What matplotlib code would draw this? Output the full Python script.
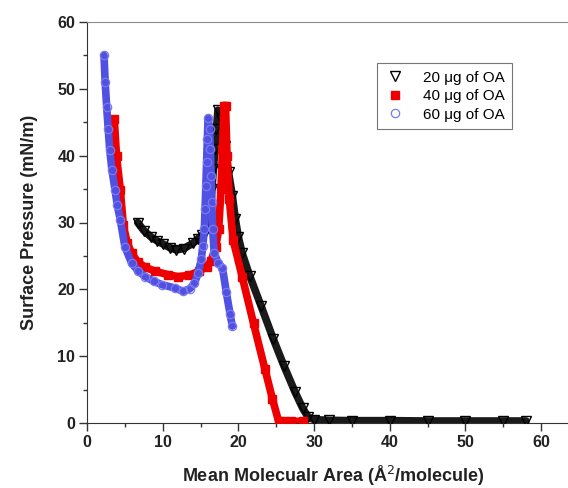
import matplotlib
matplotlib.use('Agg')
import matplotlib.pyplot as plt
from matplotlib.ticker import MultipleLocator

plt.rcParams['font.family'] = ['Liberation Sans', 'DejaVu Sans']

# 20 ug of OA (open down triangles)
area_20 = [6.7, 7.5, 8.5, 9.2, 10.0, 11.0, 11.8, 12.8, 14.0, 14.7, 15.2, 15.7, 16.1, 16.3,
           16.5, 16.7, 16.9, 17.1, 17.3, 17.7, 18.2, 18.7, 19.2, 19.6, 20.0, 20.5, 21.5,
           23.0, 24.6, 26.0, 27.5, 28.5, 29.2, 30.0, 32.0, 35.0, 40.0, 45.0, 50.0, 55.0, 58.0]
press_20 = [30.0, 28.8, 27.8, 27.3, 26.8, 26.2, 25.9, 26.1, 26.9, 27.6, 28.1, 28.8, 29.8, 32.0,
            35.0, 38.0, 41.0, 44.0, 46.8, 45.5, 41.5, 37.5, 34.0, 30.5, 27.8, 25.4, 22.0,
            17.5, 12.6, 8.6, 4.6, 2.2, 0.9, 0.5, 0.4, 0.35, 0.35, 0.3, 0.3, 0.3, 0.3]

# 40 ug of OA (filled squares)
area_40 = [3.6, 3.9, 4.4, 4.8, 5.3, 5.9, 6.7, 7.7, 9.0, 10.7, 12.0, 13.5, 14.8, 15.8, 16.4,
           17.0, 17.4, 17.7, 17.9, 18.1, 18.3, 18.5, 18.8, 19.3, 20.5, 22.0, 23.5, 24.5,
           25.3, 26.0, 27.0, 28.5]
press_40 = [45.5, 39.9, 34.9, 29.6, 27.0, 25.4, 24.1, 23.3, 22.7, 22.2, 21.9, 22.1, 22.7, 23.4, 24.3,
            26.3, 29.0, 35.0, 41.0, 47.5, 47.5, 40.0, 33.5, 27.4, 21.9, 14.9, 8.1, 3.6,
            0.3, 0.25, 0.25, 0.25]

# 60 ug of OA (open circles)
area_60 = [2.25, 2.4, 2.6, 2.8, 3.0, 3.3, 3.7, 4.0, 4.4, 5.0, 5.9, 6.8, 7.7, 8.8, 9.9, 11.6,
           12.7, 13.6, 14.2, 14.7, 15.1, 15.3, 15.5, 15.6, 15.7, 15.8, 15.9, 16.0, 16.2, 16.3,
           16.4, 16.5, 16.6, 16.8, 17.3, 17.9, 18.4, 18.9, 19.2]
press_60 = [55.0, 51.0, 47.3, 44.0, 40.9, 37.8, 34.9, 32.6, 30.4, 26.4, 23.9, 22.7, 21.9, 21.2, 20.7, 20.2,
            19.7, 20.1, 20.9, 22.5, 24.5, 26.5, 29.0, 32.0, 35.5, 39.0, 42.5, 45.6, 44.0, 41.0,
            37.0, 33.0, 29.0, 25.5, 24.0, 23.2, 19.6, 16.3, 14.5]

labels = ['20 \u03bcg of OA', '40 \u03bcg of OA', '60 \u03bcg of OA']

fig = plt.figure(figsize=(5.68, 4.88), dpi=100)
ax = fig.add_axes([87 / 568, 65 / 488, 492 / 568, 401 / 488])

# dense marker bands drawn as thick lines under the markers
ax.plot(area_20, press_20, '-', color='#1a1a1a', lw=5.5, solid_capstyle='round', zorder=2)
ax.plot(area_20, press_20, linestyle='none', marker='v', markersize=6.5, markerfacecolor='none',
        markeredgecolor='black', markeredgewidth=1.0, label=labels[0], zorder=3)

ax.plot(area_40, press_40, '-', color='#ee0000', lw=5.5, solid_capstyle='butt', zorder=4)
ax.plot(area_40, press_40, linestyle='none', marker='s', markersize=5.5, color='#ee0000',
        label=labels[1], zorder=5)

ax.plot(area_60, press_60, '-', color='#5050e2', lw=5.5, solid_capstyle='round', zorder=6)
ax.plot(area_60, press_60, linestyle='none', marker='o', markersize=6, markerfacecolor='none',
        markeredgecolor='#7a7aee', markeredgewidth=0.9, label=labels[2], zorder=7)

ax.set_xlim(0, 65)
ax.set_ylim(0, 60)
ax.xaxis.set_major_locator(MultipleLocator(10))
ax.xaxis.set_minor_locator(MultipleLocator(5))
ax.yaxis.set_major_locator(MultipleLocator(10))
ax.yaxis.set_minor_locator(MultipleLocator(5))
ax.tick_params(which='major', direction='out', length=5.5, width=1, color='#333333',
               labelsize=11.5, pad=3, labelcolor='#222222')
ax.tick_params(which='minor', direction='out', length=3, width=1, color='#333333')
for lab in ax.get_xticklabels() + ax.get_yticklabels():
    lab.set_fontweight('bold')

ax.spines['right'].set_visible(False)
ax.spines['top'].set_color('#8a8a8a')
ax.spines['left'].set_color('#333333')
ax.spines['bottom'].set_color('#333333')

ax.set_xlabel('Mean Molecualr Area (\u00c5$^2$/molecule)', fontsize=13, fontweight='bold',
              color='#222222', labelpad=10)
ax.set_ylabel('Surface Pressure (mN/m)', fontsize=13, fontweight='bold',
              color='#222222', labelpad=14)

leg = ax.legend(loc='upper left', bbox_to_anchor=(0.589, 0.898), borderaxespad=0,
                fontsize=11, frameon=True, fancybox=False, handletextpad=1.1,
                labelspacing=0.3, borderpad=0.5, handlelength=1.4)
leg.get_frame().set_edgecolor('#555555')
leg.get_frame().set_linewidth(0.8)

fig.savefig('out.png', dpi=100)
